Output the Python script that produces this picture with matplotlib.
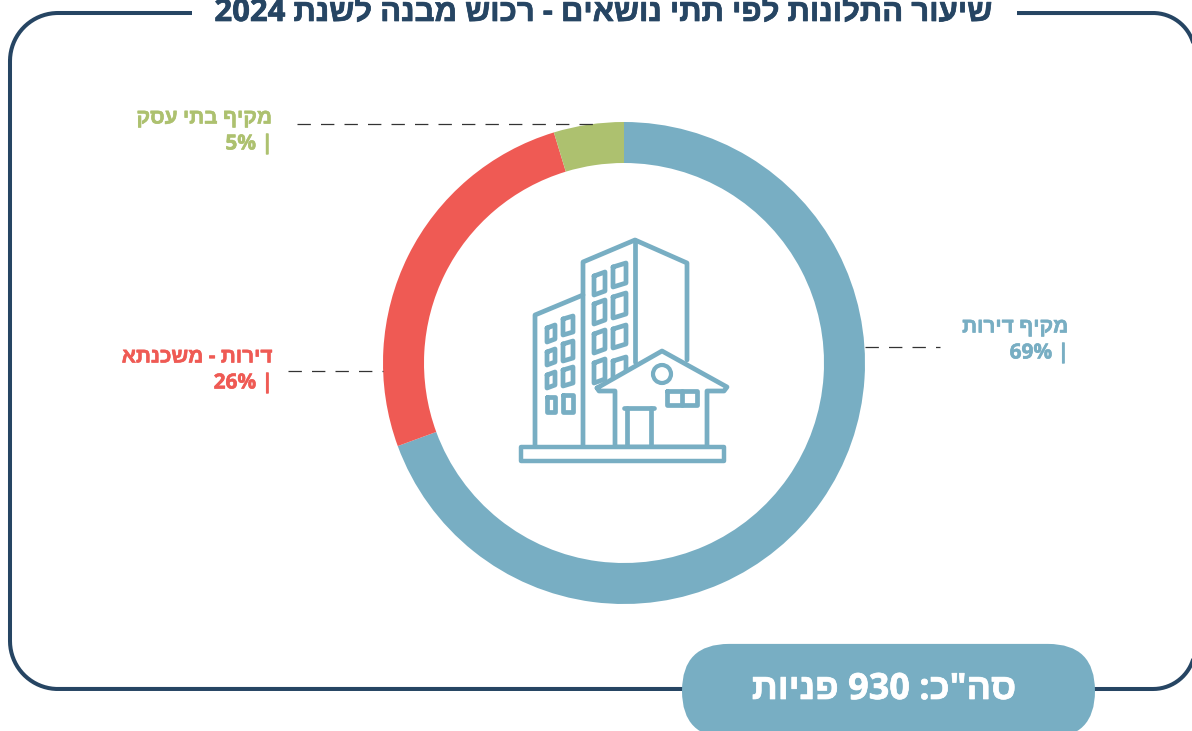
import re
import numpy as np
import matplotlib
matplotlib.use('Agg')
import matplotlib.pyplot as plt
import matplotlib.patheffects as pe
from matplotlib.patches import FancyBboxPatch, Rectangle, Circle, Polygon

plt.rcParams['font.family'] = ['Open Sans', 'Liberation Sans', 'DejaVu Sans']

# נתונים
categories = ['מקיף דירות', 'דירות - משכנתא', 'מקיף בתי עסק']
values = [69.4, 25.9, 4.7]
pct_labels = ['| 69%', '| 26%', '| 5%']
colors = ['#78AEC3', '#EF5A54', '#ADC16F']
title = 'שיעור התלונות לפי תתי נושאים - רכוש מבנה לשנת 2024'
total_label = 'סה"כ: 930 פניות'

NAVY = '#264563'
BLUE = '#78AEC3'
H = 731


def rtl(s):
    # matplotlib לא הופך עברית לבד
    return re.sub(r'[0-9%]+', lambda m: m.group()[::-1], s[::-1])


def Y(y):
    return H - y


def line(pts, ax, lw=3.4, color=BLUE, z=5):
    ax.plot([p[0] for p in pts], [Y(p[1]) for p in pts], color=color, lw=lw,
            solid_capstyle='round', solid_joinstyle='round', zorder=z)


def corner(cx, cy, r, a0, a1):
    t = np.radians(np.linspace(a0, a1, 40))
    return list(zip(cx + r * np.cos(t), cy - r * np.sin(t)))


fig = plt.figure(figsize=(11.92, 7.31), dpi=100)
ax = fig.add_axes([0, 0, 1, 1])

# טבעת
ax.pie(values, colors=colors, center=(624, Y(363)), radius=241, startangle=90,
       counterclock=False, wedgeprops={'width': 41, 'linewidth': 0})
ax.set_xlim(0, 1192)
ax.set_ylim(0, H)
ax.set_aspect('auto')
ax.axis('off')

# מסגרת
frame = (corner(58, 61, 48, 180, 90) + corner(1153, 55, 42, 90, 0)
         + corner(1153, 647, 42, 0, -90) + corner(58, 641, 48, -90, -180))
line(frame + [frame[0]], ax, lw=2.9, color=NAVY, z=1)
ax.add_patch(Rectangle((192, Y(30)), 825, 30, fc='white', ec='none', zorder=2))
bold = [pe.withStroke(linewidth=0.5, foreground=NAVY)]
ax.text(604, Y(13), rtl(title), ha='center', va='center', fontsize=22.4,
        fontweight='bold', color=NAVY, zorder=3, path_effects=bold)

# תוויות
label_pos = [(1068, 327, 347, 865, 940), (272, 357, 371, 288, 383), (272, 118, 124, 297, 595)]
for cat, pct, col, (tx, ty, ly, x0, x1) in zip(categories, pct_labels, colors, label_pos):
    stroke = [pe.withStroke(linewidth=0.4, foreground=col)]
    ax.text(tx, Y(ty), rtl(cat), ha='right', va='center', fontsize=15,
            fontweight='bold', color=col, path_effects=stroke)
    ax.text(tx + 1, Y(ty + 26), rtl(pct), ha='right', va='center', fontsize=15,
            fontweight='bold', color=col, path_effects=stroke)
    ax.plot([x0, x1], [Y(ly), Y(ly)], color='#333333', lw=0.9, dashes=(10.7, 8.1), zorder=6)

# סך הכל
ax.add_patch(FancyBboxPatch((682 + 47, Y(691)), 413 - 94, 0.1,
                            boxstyle='round,pad=47,rounding_size=47', fc=BLUE, ec='none', zorder=7))
ax.text(884, Y(690), rtl(total_label), ha='center', va='center', fontsize=26,
        fontweight='bold', color='white', zorder=8,
        path_effects=[pe.withStroke(linewidth=0.5, foreground='white')])

# אייקון בניין
line([(535, 447), (535, 315), (583, 295)], ax)
line([(583, 447), (583, 262), (635, 240), (687, 263), (687, 360)], ax)
line([(635, 240), (635, 362)], ax)

# חלונות: x0, x1, top, bottom, skew
windows = [
    (547, 555, 328, 342, 3), (547, 555, 352, 365, 3), (547, 555, 375, 388, 3), (547, 555, 397, 412, 0),
    (563, 573, 319, 335, 3), (563, 573, 344, 361, 3), (563, 573, 370, 386, 3), (563, 573, 395, 412, 0),
    (594, 605, 276, 295, 4), (594, 605, 304, 324, 4), (594, 605, 334, 353, 4), (594, 605, 363, 383, 4),
    (613, 626, 267, 287, 4), (613, 626, 297, 318, 4), (613, 626, 329, 348, 4), (613, 626, 361, 381, 4),
]
for x0, x1, top, bottom, skew in windows:
    line([(x0, top), (x0, bottom), (x1, bottom - skew), (x1, top - skew), (x0, top)], ax)

roof = [(597, 388), (662, 351), (727, 387), (724, 391), (707, 391), (707, 447), (615, 447), (615, 391), (599, 391)]
ax.add_patch(Polygon([(x, Y(y)) for x, y in roof], closed=True, fc='white', ec='none', zorder=5.5))
line(roof + [roof[0]], ax, z=6)
line([(624, 408), (654, 408)], ax, z=6)
line([(627, 408), (627, 447)], ax, z=6)
line([(651, 408), (651, 447)], ax, z=6)
ax.add_patch(Circle((662, Y(374)), 9, fc='none', ec=BLUE, lw=3.0, zorder=6))
line([(667, 391), (697, 391), (697, 405), (667, 405), (667, 391)], ax, z=6)
line([(682, 391), (682, 405)], ax, z=6)
ax.add_patch(Rectangle((521, Y(461)), 203, 14, fc='white', ec=BLUE, lw=3.2,
                       joinstyle='round', zorder=6))

fig.savefig('out.png', dpi=100)
